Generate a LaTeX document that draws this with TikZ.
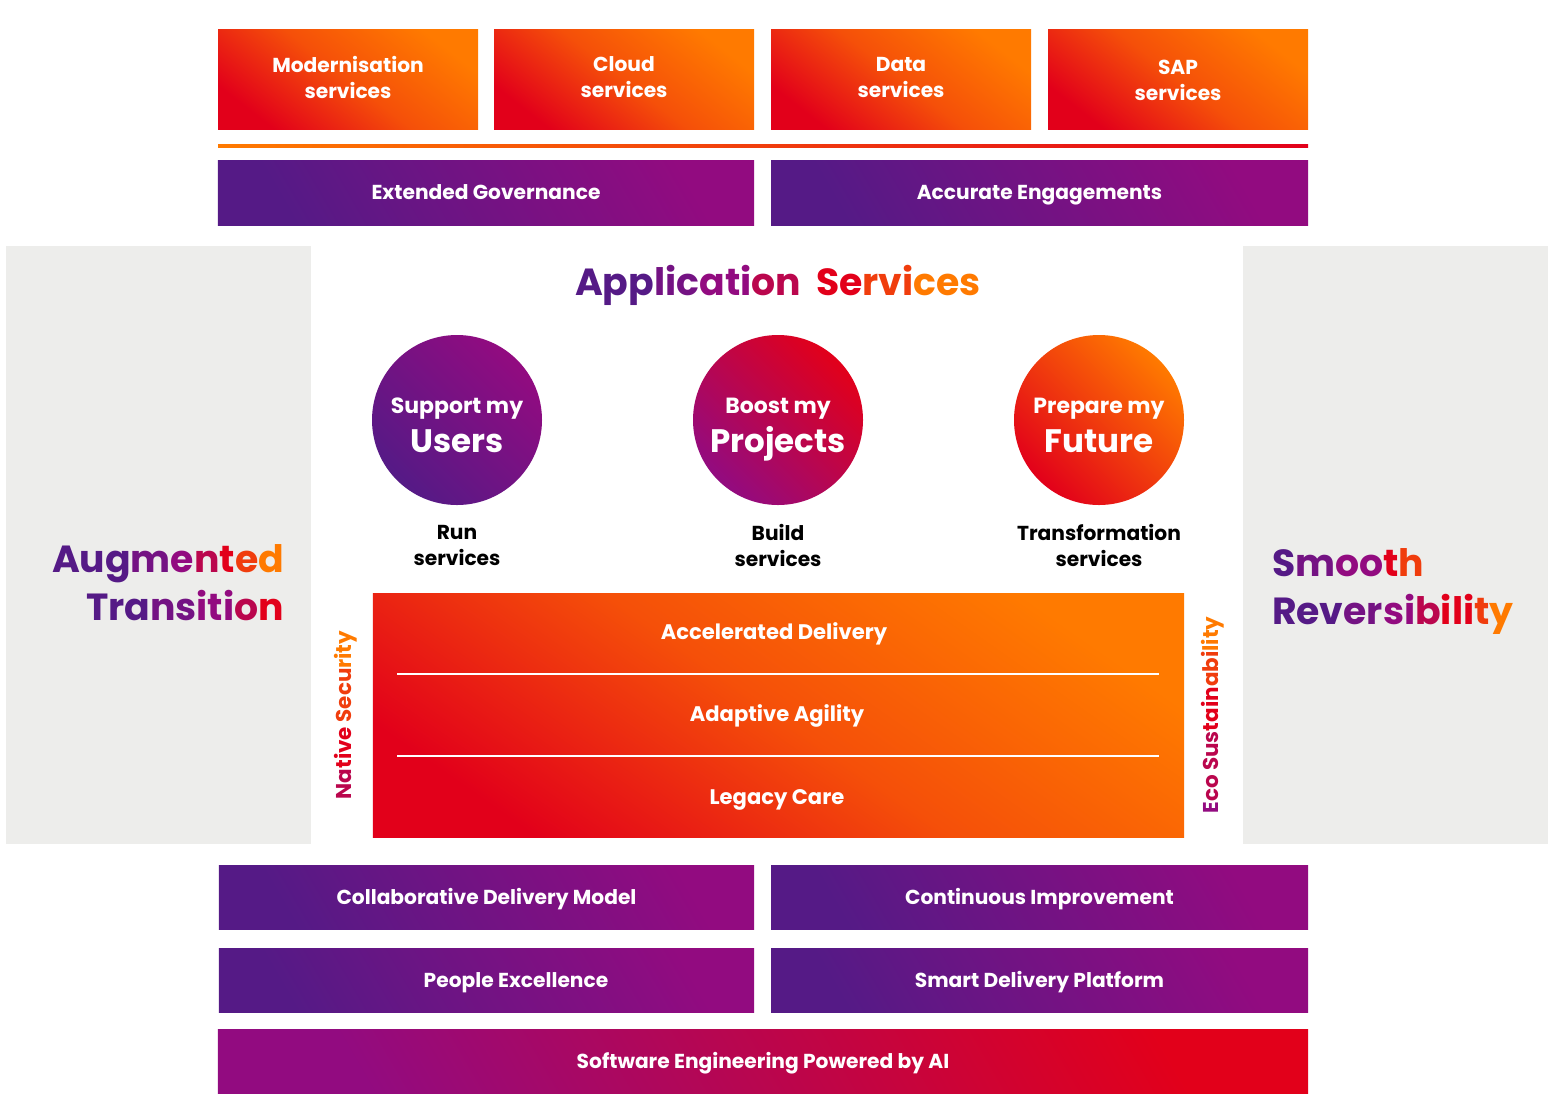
\documentclass[tikz,border=0pt]{standalone}
\usepackage{fontspec}
\setmainfont{Poppins}
\usepackage{xcolor}
\usepackage{tikz}
\usetikzlibrary{positioning}
\definecolor{brandpurple}{RGB}{85, 26, 134}
\definecolor{brandmagenta}{RGB}{146, 11, 128}
\definecolor{brandred}{RGB}{226, 0, 26}
\definecolor{brandorange}{RGB}{255, 122, 0}
\definecolor{panelgray}{RGB}{237, 237, 235}
\colorlet{c0}{brandpurple}
\colorlet{c1}{brandpurple!50!brandmagenta}
\colorlet{c2}{brandmagenta}
\colorlet{c3}{brandmagenta!50!brandred}
\colorlet{c4}{brandred}
\colorlet{c5}{brandred!50!brandorange}
\colorlet{c6}{brandorange}

\begin{document}
\begin{tikzpicture}[x=0.2mm, y=-0.2mm,
    every node/.style={inner sep=0pt, outer sep=0pt},
    hotbox/.style={rectangle, left color=brandred, right color=brandorange, middle color=brandred!35!brandorange, shading angle=142},
    plumbox/.style={rectangle, left color=brandpurple, right color=brandmagenta, shading angle=120},
    lbl/.style={text=white, font=\bfseries\fontsize{11.5}{14.8}\selectfont, align=center},
    onelbl/.style={text=white, font=\bfseries\fontsize{11.5}{14.8}\selectfont, text height=8pt, text depth=0pt},
    darklbl/.style={text=black, font=\bfseries\fontsize{11.5}{14.8}\selectfont, align=center},
    midlbl/.style={text=white, font=\bfseries\fontsize{12}{14}\selectfont, text height=8.4pt, text depth=0pt},
    bigtitle/.style={font=\bfseries\fontsize{21.5}{27}\selectfont},
    sidelbl/.style={rotate=90, font=\bfseries\fontsize{12.2}{14}\selectfont, text height=8.5pt, text depth=0pt},
    bubble/.style={circle, minimum size=34mm, shading angle=135},
    bubsmall/.style={anchor=base, text=white, font=\bfseries\fontsize{12.5}{14}\selectfont},
    bubbig/.style={anchor=base, text=white, font=\bfseries\fontsize{18.5}{20}\selectfont}]
    \useasboundingbox (0,0) rectangle (1555,1105);

    % offers on top
    \node[hotbox, minimum width=52mm, minimum height=20mm] (modern) at (348,79) {};
    \node[hotbox, minimum width=52mm, minimum height=20mm] (cloud) at (624,79) {};
    \node[hotbox, minimum width=52mm, minimum height=20mm] (data) at (901,79) {};
    \node[hotbox, minimum width=52mm, minimum height=20mm] (sap) at (1178,79) {};
    \node[lbl] (moderntxt) at (348,77) {Modernisation\\services};
    \node[lbl] (cloudtxt) at (624,77) {Cloud\\services};
    \node[lbl] (datatxt) at (901,77) {Data\\services};
    \node[lbl] (saptxt) at (1178,80) {SAP\\services};
    \shade[left color=brandorange, right color=brandred] (218,144.5) rectangle (1308,147.5);
    \node[plumbox, onelbl, minimum width=107.2mm, minimum height=13mm] (gov) at (486,192.5) {Extended Governance};
    \node[plumbox, onelbl, minimum width=107.4mm, minimum height=13mm] (engage) at (1039.5,192.5) {Accurate Engagements};

    % side panels
    \fill[panelgray] (6,246) rectangle (311,844);
    \fill[panelgray] (1243,246) rectangle (1548,844);
    \node[bigtitle, anchor=base east] (augm) at (284,572) {\textcolor{c0}{Aug}\textcolor{c1}{m}\textcolor{c2}{e}\textcolor{c3}{n}\textcolor{c4}{t}\textcolor{c5}{e}\textcolor{c6}{d}};
    \node[bigtitle, anchor=base east] (trans) at (284,620) {\textcolor{c0}{Tra}\textcolor{c1}{ns}\textcolor{c2}{iti}\textcolor{c3}{o}\textcolor{c4}{n}};
    \node[bigtitle, anchor=base west] (smooth) at (1272,576) {\textcolor{c0}{S}\textcolor{c1}{m}\textcolor{c2}{oo}\textcolor{c4}{t}\textcolor{c5}{h}};
    \node[bigtitle, anchor=base west] (revers) at (1272,624) {\textcolor{c0}{Rev}\textcolor{c1}{er}\textcolor{c2}{si}\textcolor{c3}{b}\textcolor{c4}{ili}\textcolor{c5}{t}\textcolor{c6}{y}};

    % application services
    \node[bigtitle, anchor=base] (appserv) at (778,295) {\textcolor{c0}{App}\textcolor{c1}{lic}\textcolor{c2}{ati}\textcolor{c3}{on}\hspace{0.4em}\textcolor{c4}{Se}\textcolor{c5}{rvi}\textcolor{c6}{ces}};

    \node[bubble, left color=brandpurple, right color=brandmagenta, shading angle=135] (users) at (457,420) {};
    \node[bubble, left color=brandmagenta, right color=brandred, shading angle=135] (projects) at (778,420) {};
    \node[bubble, left color=brandred, right color=brandorange, shading angle=135] (future) at (1099,420) {};
    \node[bubsmall] (userstop) at (457,413) {Support my};
    \node[bubbig] (usersbig) at (457,452) {Users};
    \node[bubsmall] (projtop) at (778,413) {Boost my};
    \node[bubbig] (projbig) at (778,452) {Projects};
    \node[bubsmall] (futtop) at (1099,413) {Prepare my};
    \node[bubbig] (futbig) at (1099,452) {Future};
    \node[darklbl] (run) at (457,545) {Run\\services};
    \node[darklbl] (build) at (778,545) {Build\\services};
    \node[darklbl] (transf) at (1099,545) {Transformation\\services};

    % delivery stack
    \node[hotbox, shading angle=145, minimum width=162.2mm, minimum height=48.8mm] (core) at (778.5,715) {};
    \draw[white, line width=0.4mm] (397,674) -- (1159,674);
    \draw[white, line width=0.4mm] (397,756) -- (1159,756);
    \node[midlbl] (accel) at (774,632) {Accelerated Delivery};
    \node[midlbl] (adapt) at (777,714) {Adaptive Agility};
    \node[midlbl] (legacy) at (777,797) {Legacy Care};
    \node[sidelbl] (natsec) at (344,715) {\textcolor{c3}{Na}\textcolor{c4}{tive} \textcolor{c5}{Secu}\textcolor{c6}{rity}};
    \node[sidelbl] (ecosus) at (1211,715) {\textcolor{c2}{E}\textcolor{c3}{co Sus}\textcolor{c4}{tain}\textcolor{c5}{abi}\textcolor{c6}{lity}};

    % foundations
    \node[plumbox, onelbl, minimum width=107mm, minimum height=12.8mm] (collab) at (486.5,897) {Collaborative Delivery Model};
    \node[plumbox, onelbl, minimum width=107.4mm, minimum height=12.8mm] (contimp) at (1039.5,897) {Continuous Improvement};
    \node[plumbox, minimum width=107mm, minimum height=12.8mm] (people) at (486.5,980) {};
    \node[onelbl] (peopletxt) at (516,980) {People Excellence};
    \node[plumbox, onelbl, minimum width=107.4mm, minimum height=12.8mm] (smart) at (1039.5,980) {Smart Delivery Platform};
    \node[rectangle, onelbl, left color=brandmagenta, right color=brandred, shading angle=120, minimum width=218mm, minimum height=12.8mm] (swai) at (763,1061) {Software Engineering Powered by AI};
\end{tikzpicture}
\end{document}
